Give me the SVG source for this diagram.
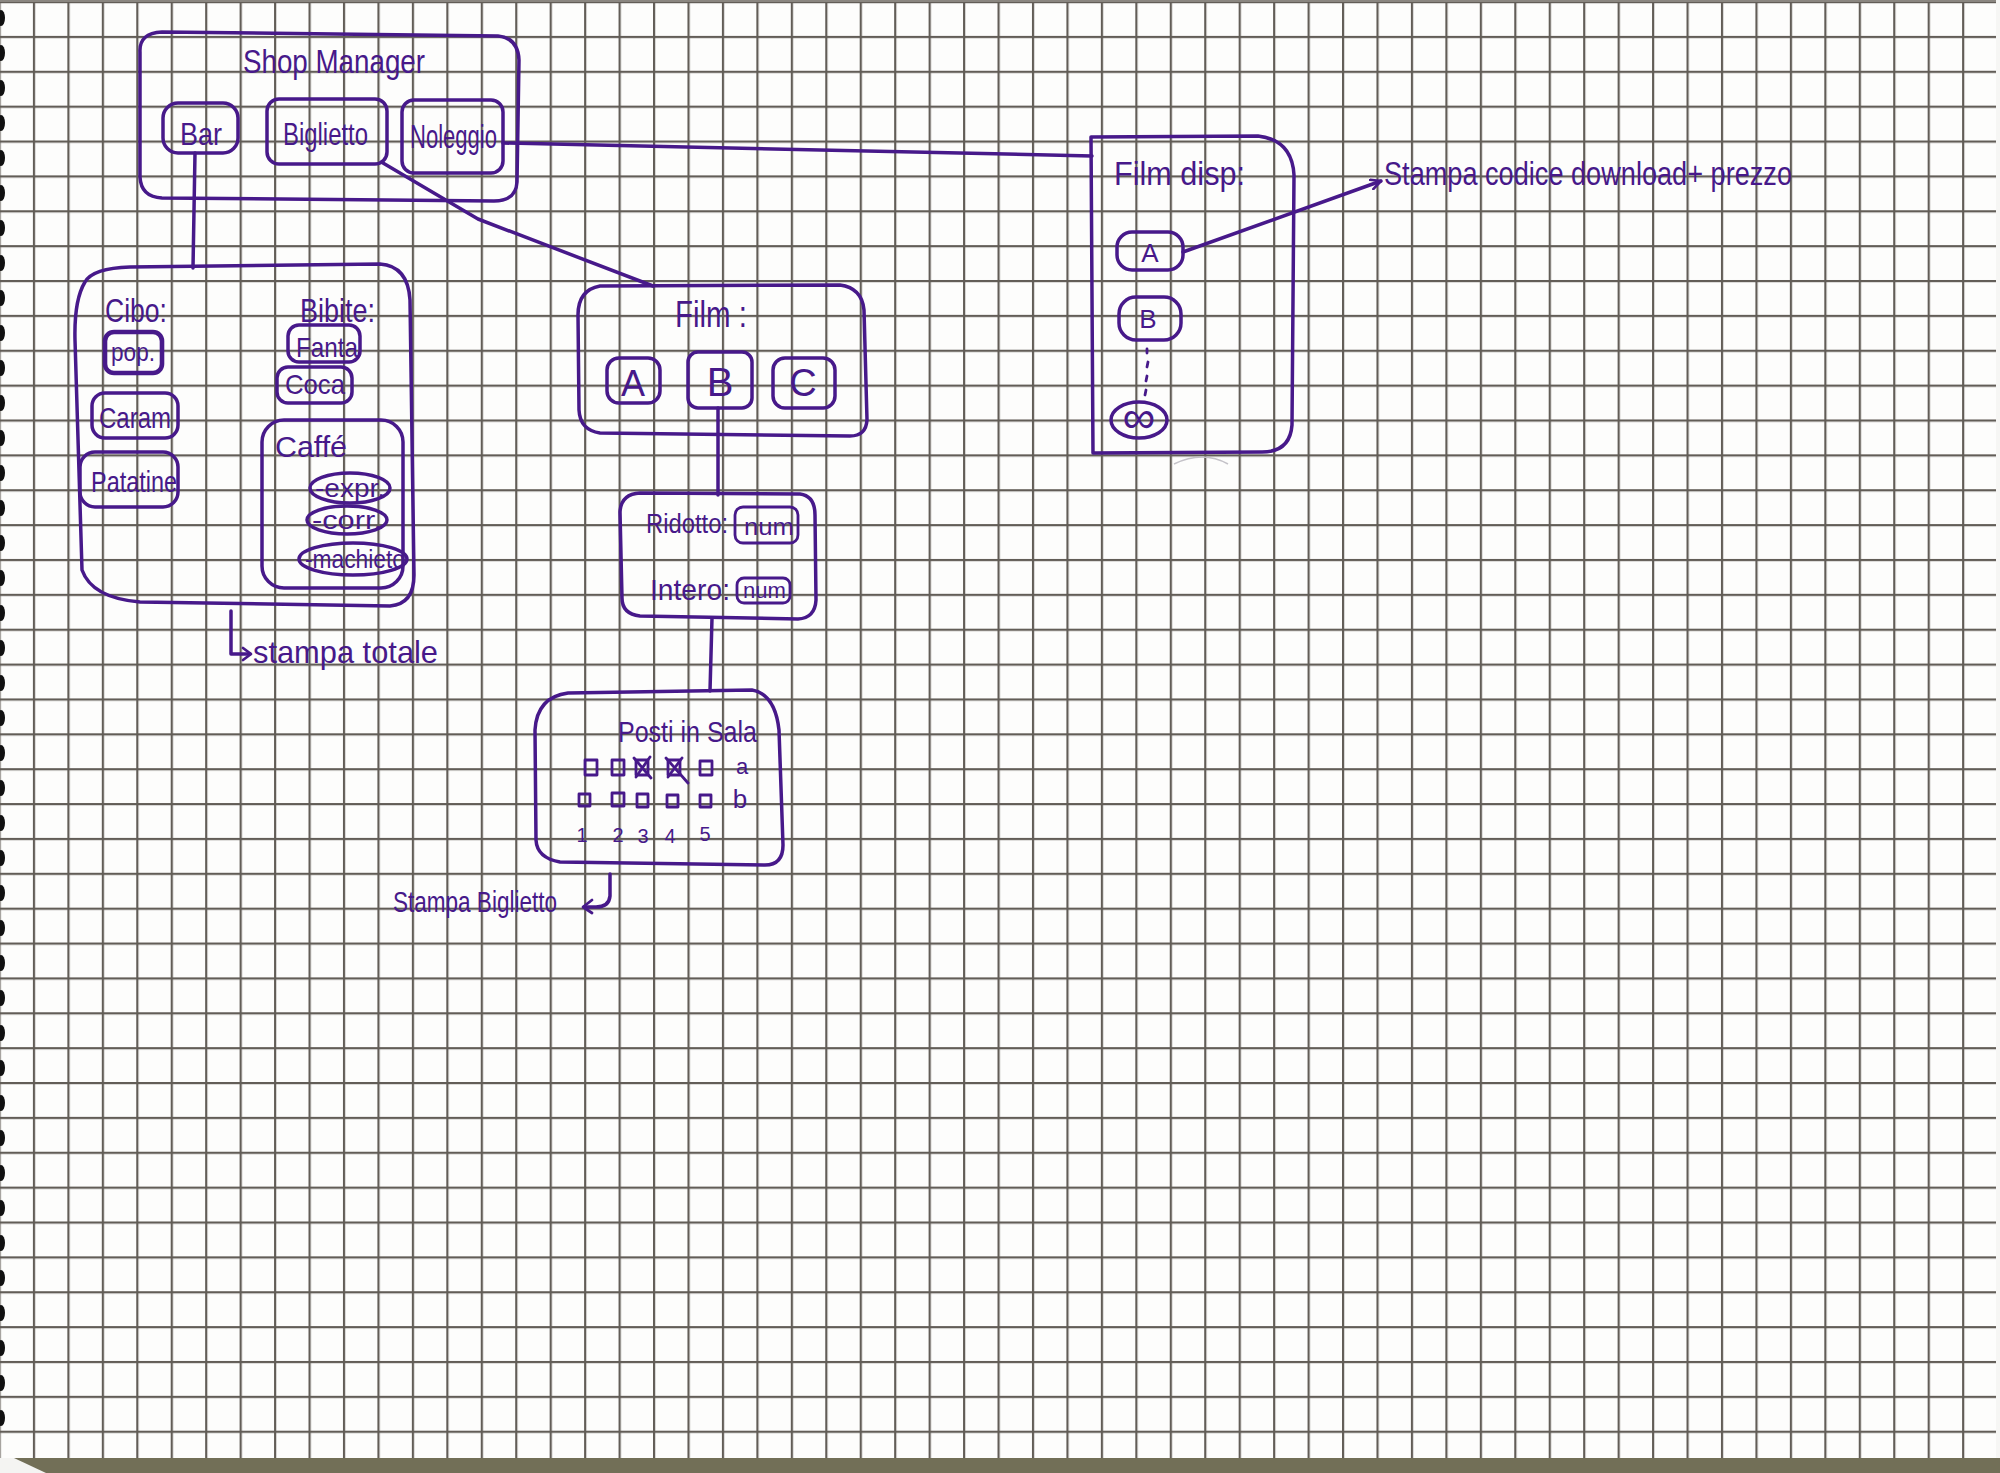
<svg xmlns="http://www.w3.org/2000/svg" width="2000" height="1473" viewBox="0 0 2000 1473">
  <defs>
    <style>
      .ink { fill: none; stroke: #47198a; stroke-width: 3.5; stroke-linecap: round; stroke-linejoin: round; }
      .thin { stroke-width: 2.8; }
      .thick { stroke-width: 4.6; }
      .t { font-family: "Liberation Sans", "DejaVu Sans", sans-serif; fill: #47198a; }
      .hole { fill: #111; }
    </style>
    <!-- squared paper -->
    <pattern id="grid" patternUnits="userSpaceOnUse" x="32.9" y="35.9" width="34.45" height="34.87">
      <rect x="0" y="0" width="34.45" height="34.87" fill="#fdfdfc"/>
      <rect x="0" y="0" width="2.2" height="34.87" fill="#625d57"/>
      <rect x="0" y="0" width="34.45" height="2.2" fill="#625d57"/>
    </pattern>
    <marker id="chev" viewBox="0 0 12 12" refX="11" refY="6" markerWidth="12" markerHeight="12" markerUnits="userSpaceOnUse" orient="auto">
      <path d="M1 1 L11 6 L1 11" fill="none" stroke="#47198a" stroke-width="2.6" stroke-linecap="round" stroke-linejoin="round"/>
    </marker>
  </defs>

  <!-- sheet -->
  <rect x="0" y="0" width="2000" height="1473" fill="#fdfdfc"/>
  <rect x="0" y="0" width="1996" height="1458" fill="url(#grid)"/>
  <rect x="0" y="0" width="2000" height="2" fill="#8a8680"/>
  <rect x="0" y="1458" width="2000" height="15" fill="#726f57"/>
  <polygon points="0,1458 14,1458 46,1473 0,1473" fill="#f4f4f2"/>
  <rect x="1996" y="0" width="4" height="1458" fill="#f6f6f4"/>

  <!-- spiral binding holes -->
  <g id="binding">
    <ellipse class="hole" cx="1" cy="18" rx="4" ry="8"/>
    <ellipse class="hole" cx="1" cy="53" rx="4" ry="8"/>
    <ellipse class="hole" cx="1" cy="88" rx="4" ry="8"/>
    <ellipse class="hole" cx="1" cy="123" rx="4" ry="8"/>
    <ellipse class="hole" cx="1" cy="158" rx="4" ry="8"/>
    <ellipse class="hole" cx="1" cy="193" rx="4" ry="8"/>
    <ellipse class="hole" cx="1" cy="228" rx="4" ry="8"/>
    <ellipse class="hole" cx="1" cy="263" rx="4" ry="8"/>
    <ellipse class="hole" cx="1" cy="298" rx="4" ry="8"/>
    <ellipse class="hole" cx="1" cy="333" rx="4" ry="8"/>
    <ellipse class="hole" cx="1" cy="368" rx="4" ry="8"/>
    <ellipse class="hole" cx="1" cy="403" rx="4" ry="8"/>
    <ellipse class="hole" cx="1" cy="438" rx="4" ry="8"/>
    <ellipse class="hole" cx="1" cy="473" rx="4" ry="8"/>
    <ellipse class="hole" cx="1" cy="508" rx="4" ry="8"/>
    <ellipse class="hole" cx="1" cy="543" rx="4" ry="8"/>
    <ellipse class="hole" cx="1" cy="578" rx="4" ry="8"/>
    <ellipse class="hole" cx="1" cy="613" rx="4" ry="8"/>
    <ellipse class="hole" cx="1" cy="648" rx="4" ry="8"/>
    <ellipse class="hole" cx="1" cy="683" rx="4" ry="8"/>
    <ellipse class="hole" cx="1" cy="718" rx="4" ry="8"/>
    <ellipse class="hole" cx="1" cy="753" rx="4" ry="8"/>
    <ellipse class="hole" cx="1" cy="788" rx="4" ry="8"/>
    <ellipse class="hole" cx="1" cy="823" rx="4" ry="8"/>
    <ellipse class="hole" cx="1" cy="858" rx="4" ry="8"/>
    <ellipse class="hole" cx="1" cy="893" rx="4" ry="8"/>
    <ellipse class="hole" cx="1" cy="928" rx="4" ry="8"/>
    <ellipse class="hole" cx="1" cy="963" rx="4" ry="8"/>
    <ellipse class="hole" cx="1" cy="998" rx="4" ry="8"/>
    <ellipse class="hole" cx="1" cy="1033" rx="4" ry="8"/>
    <ellipse class="hole" cx="1" cy="1068" rx="4" ry="8"/>
    <ellipse class="hole" cx="1" cy="1103" rx="4" ry="8"/>
    <ellipse class="hole" cx="1" cy="1138" rx="4" ry="8"/>
    <ellipse class="hole" cx="1" cy="1173" rx="4" ry="8"/>
    <ellipse class="hole" cx="1" cy="1208" rx="4" ry="8"/>
    <ellipse class="hole" cx="1" cy="1243" rx="4" ry="8"/>
    <ellipse class="hole" cx="1" cy="1278" rx="4" ry="8"/>
    <ellipse class="hole" cx="1" cy="1313" rx="4" ry="8"/>
    <ellipse class="hole" cx="1" cy="1348" rx="4" ry="8"/>
    <ellipse class="hole" cx="1" cy="1383" rx="4" ry="8"/>
    <ellipse class="hole" cx="1" cy="1418" rx="4" ry="8"/>
  </g>

  <!-- connectors -->
  <g id="connectors">
    <path class="ink" d="M195 153 L193 268"/>
    <path class="ink" d="M383 163 L478 219 L653 286"/>
    <path class="ink" d="M503 143 L1092 156"/>
    <path class="ink" d="M718 408 L718 495"/>
    <path class="ink" d="M712 618 L710 691"/>
    <path class="ink" d="M1183 252 L1381 181" marker-end="url(#chev)"/>
    <!-- stampa totale hook -->
    <path class="ink" d="M231 611 L231 654 L250 654"/>
    <path class="ink thin" d="M243 648 L251 654 L243 660"/>
    <!-- stampa biglietto hook -->
    <path class="ink" d="M610 874 L610 896 Q609 907 596 907 L584 907"/>
    <path class="ink thin" d="M592 900 L583 907 L592 913"/>
  </g>

  <!-- Shop Manager -->
  <g id="shop-manager">
    <path class="ink" d="M140 52 Q139 33 162 32 L498 36 Q518 38 519 60 L517 182 Q516 201 494 201 L162 198 Q141 197 140 177 Z"/>
    <text class="t" x="243" y="73" font-size="34" textLength="182" lengthAdjust="spacingAndGlyphs">Shop Manager</text>
    <g id="bar">
      <rect class="ink" x="163" y="103" width="75" height="50" rx="15"/>
      <text class="t" x="180" y="145" font-size="32" textLength="42" lengthAdjust="spacingAndGlyphs">Bar</text>
    </g>
    <g id="biglietto">
      <rect class="ink" x="267" y="99" width="120" height="65" rx="12"/>
      <text class="t" x="283" y="145" font-size="32" textLength="85" lengthAdjust="spacingAndGlyphs">Biglietto</text>
    </g>
    <g id="noleggio">
      <rect class="ink" x="402" y="100" width="101" height="73" rx="12"/>
      <text class="t" x="410" y="148" font-size="34" textLength="87" lengthAdjust="spacingAndGlyphs">Noleggio</text>
    </g>
  </g>

  <!-- Bar contents -->
  <g id="bar-panel">
    <path class="ink" d="M85 282 Q93 268 130 267 L380 264 Q408 266 410 300 L414 575 Q414 604 390 606 L140 602 Q92 598 82 570 L75 340 Q74 300 85 282 Z"/>
    <text class="t" x="105" y="322" font-size="34" textLength="62" lengthAdjust="spacingAndGlyphs">Cibo:</text>
    <g id="pop">
      <rect class="ink thick" x="105" y="332" width="57" height="41" rx="9"/>
      <text class="t" x="111" y="361" font-size="26" textLength="44" lengthAdjust="spacingAndGlyphs">pop.</text>
    </g>
    <g id="caram">
      <rect class="ink" x="92" y="393" width="86" height="45" rx="13"/>
      <text class="t" x="99" y="428" font-size="30" textLength="72" lengthAdjust="spacingAndGlyphs">Caram</text>
    </g>
    <g id="patatine">
      <rect class="ink" x="80" y="452" width="98" height="55" rx="15"/>
      <text class="t" x="91" y="492" font-size="30" textLength="86" lengthAdjust="spacingAndGlyphs">Patatine</text>
    </g>
    <text class="t" x="300" y="322" font-size="34" textLength="75" lengthAdjust="spacingAndGlyphs">Bibite:</text>
    <g id="fanta">
      <rect class="ink" x="288" y="325" width="72" height="37" rx="11"/>
      <text class="t" x="296" y="357" font-size="28" textLength="62" lengthAdjust="spacingAndGlyphs">Fanta</text>
    </g>
    <g id="coca">
      <rect class="ink" x="277" y="367" width="75" height="36" rx="11"/>
      <text class="t" x="285" y="394" font-size="28" textLength="60" lengthAdjust="spacingAndGlyphs">Coca</text>
    </g>
    <g id="caffe">
      <rect class="ink" x="262" y="420" width="141" height="168" rx="22"/>
      <text class="t" x="275" y="457" font-size="30" textLength="72" lengthAdjust="spacingAndGlyphs">Caffé</text>
      <ellipse class="ink" cx="350" cy="488" rx="40" ry="15"/>
      <text class="t" x="315" y="497" font-size="26" textLength="70" lengthAdjust="spacingAndGlyphs">-expr.</text>
      <ellipse class="ink" cx="347" cy="520" rx="40" ry="14"/>
      <text class="t" x="312" y="529" font-size="26" textLength="70" lengthAdjust="spacingAndGlyphs">-corr.</text>
      <ellipse class="ink" cx="353" cy="559" rx="54" ry="16"/>
      <text class="t" x="305" y="568" font-size="26" textLength="100" lengthAdjust="spacingAndGlyphs">-machieto</text>
    </g>
  </g>

  <g id="stampa-totale">
    <text class="t" x="253" y="663" font-size="32" textLength="185" lengthAdjust="spacingAndGlyphs">stampa totale</text>
  </g>

  <!-- Film -->
  <g id="film">
    <path class="ink" d="M600 286 L840 285 Q862 288 864 310 L867 420 Q866 436 850 436 L600 433 Q580 430 579 410 L578 315 Q578 290 600 286 Z"/>
    <text class="t" x="675" y="327" font-size="36" textLength="72" lengthAdjust="spacingAndGlyphs">Film :</text>
    <g id="film-a">
      <rect class="ink" x="607" y="358" width="53" height="45" rx="12"/>
      <text class="t" x="633" y="396" font-size="36" text-anchor="middle">A</text>
    </g>
    <g id="film-b">
      <rect class="ink" x="688" y="352" width="64" height="56" rx="10"/>
      <text class="t" x="720" y="396" font-size="40" text-anchor="middle">B</text>
    </g>
    <g id="film-c">
      <rect class="ink" x="773" y="358" width="62" height="50" rx="12"/>
      <text class="t" x="803" y="396" font-size="38" text-anchor="middle">C</text>
    </g>
  </g>

  <!-- ticket prices -->
  <g id="prezzi">
    <path class="ink" d="M640 493 L800 494 Q815 496 815 515 L816 600 Q815 618 798 619 L640 616 Q622 614 622 598 L620 512 Q621 494 640 493 Z"/>
    <text class="t" x="646" y="533" font-size="27" textLength="82" lengthAdjust="spacingAndGlyphs">Ridotto:</text>
    <rect class="ink thin" x="735" y="507" width="63" height="36" rx="8"/>
    <text class="t" x="744" y="535" font-size="24" textLength="50" lengthAdjust="spacingAndGlyphs">num</text>
    <text class="t" x="650" y="600" font-size="30" textLength="80" lengthAdjust="spacingAndGlyphs">Intero:</text>
    <rect class="ink thin" x="737" y="578" width="53" height="25" rx="7"/>
    <text class="t" x="743" y="598" font-size="22" textLength="43" lengthAdjust="spacingAndGlyphs">num</text>
  </g>

  <!-- seating -->
  <g id="posti-in-sala">
    <path class="ink" d="M568 693 L752 690 Q775 694 779 730 L783 845 Q783 865 765 865 L560 862 Q537 858 536 840 L535 730 Q537 697 568 693 Z"/>
    <text class="t" x="618" y="742" font-size="30" textLength="139" lengthAdjust="spacingAndGlyphs">Posti in Sala</text>
    <g class="ink thin">
      <rect x="585" y="760" width="12" height="15"/>
      <rect x="612" y="760" width="12" height="15"/>
      <rect x="636" y="760" width="12" height="15"/>
      <rect x="668" y="760" width="12" height="15"/>
      <rect x="700" y="761" width="12" height="14"/>
      <path d="M634 758 L651 778 M650 757 L636 777"/>
      <path d="M666 758 L688 783 M682 758 L668 777"/>
      <rect x="579" y="794" width="11" height="12"/>
      <rect x="612" y="793" width="12" height="13"/>
      <rect x="637" y="794" width="11" height="13"/>
      <rect x="667" y="795" width="11" height="12"/>
      <rect x="700" y="795" width="11" height="12"/>
    </g>
    <text class="t" x="742" y="774" font-size="22" text-anchor="middle">a</text>
    <text class="t" x="740" y="808" font-size="26" text-anchor="middle">b</text>
    <text class="t" x="582" y="842" font-size="20" text-anchor="middle">1</text>
    <text class="t" x="618" y="842" font-size="20" text-anchor="middle">2</text>
    <text class="t" x="643" y="843" font-size="20" text-anchor="middle">3</text>
    <text class="t" x="670" y="843" font-size="20" text-anchor="middle">4</text>
    <text class="t" x="705" y="841" font-size="20" text-anchor="middle">5</text>
  </g>

  <g id="stampa-biglietto">
    <text class="t" x="393" y="912" font-size="30" textLength="164" lengthAdjust="spacingAndGlyphs">Stampa Biglietto</text>
  </g>

  <!-- rentable films -->
  <g id="film-disp">
    <path class="ink" d="M1091 137 L1258 136 Q1292 140 1294 175 L1292 425 Q1290 452 1262 452 L1093 453 Z"/>
    <text class="t" x="1114" y="185" font-size="34" textLength="131" lengthAdjust="spacingAndGlyphs">Film disp:</text>
    <g id="disp-a">
      <rect class="ink" x="1117" y="232" width="66" height="38" rx="15"/>
      <text class="t" x="1150" y="262" font-size="26" text-anchor="middle">A</text>
    </g>
    <g id="disp-b">
      <rect class="ink" x="1119" y="297" width="62" height="43" rx="17"/>
      <text class="t" x="1148" y="328" font-size="26" text-anchor="middle">B</text>
    </g>
    <path class="ink thin" d="M1147 349 L1147 353 M1148 362 L1147 367 M1147 376 L1146 381 M1146 390 L1145 395"/>
    <g id="disp-inf">
      <ellipse class="ink" cx="1139" cy="420" rx="28" ry="18"/>
      <text class="t" x="1139" y="433" font-size="46" text-anchor="middle">∞</text>
    </g>
  </g>
  <path d="M1174 464 Q1203 450 1228 464" fill="none" stroke="#c4c2c8" stroke-width="1.6"/>

  <g id="stampa-codice">
    <text class="t" x="1384" y="185" font-size="34" textLength="408" lengthAdjust="spacingAndGlyphs">Stampa codice download+ prezzo</text>
  </g>
</svg>
